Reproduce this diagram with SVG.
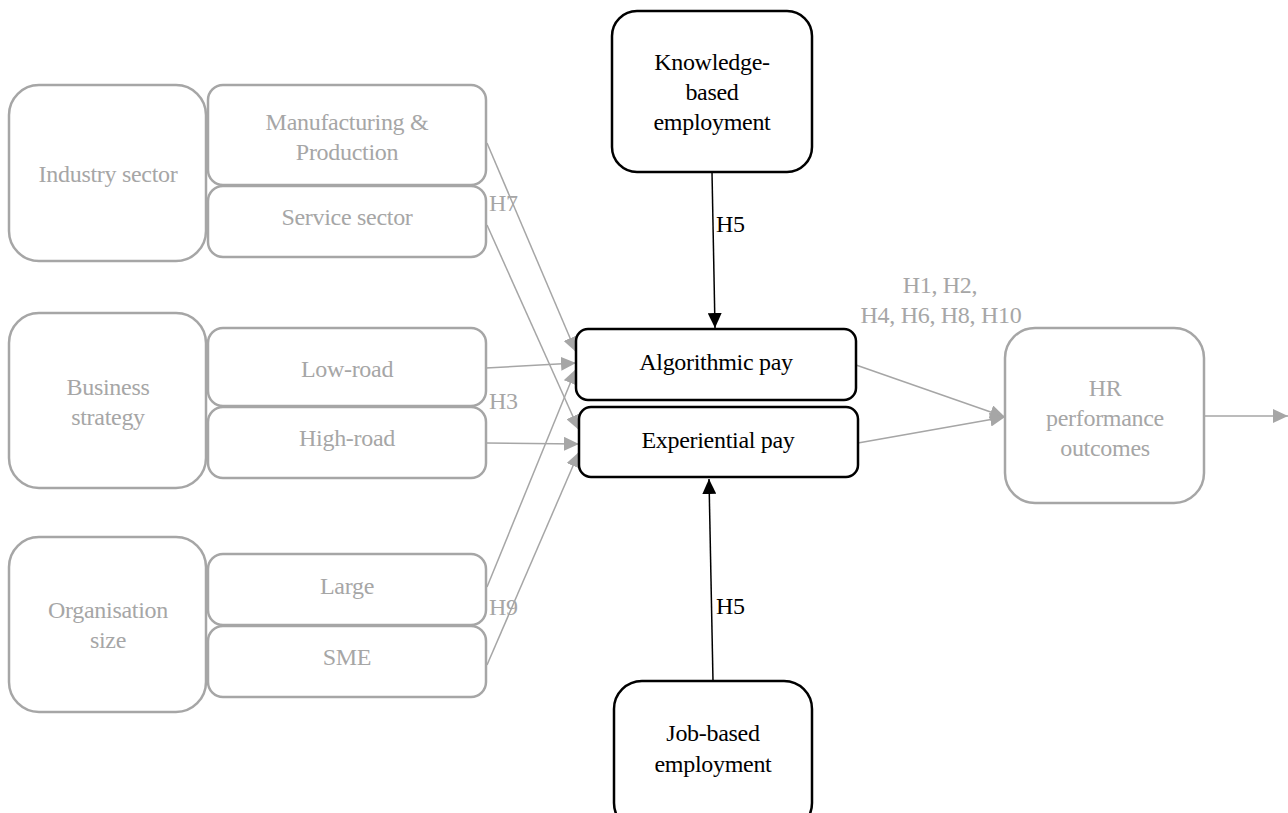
<svg xmlns="http://www.w3.org/2000/svg" width="1288" height="813" viewBox="0 0 1288 813">
<style>
text{font-family:'Liberation Serif',Tinos,'Times New Roman',Times,'Nimbus Roman','DejaVu Serif','Noto Serif',serif;font-size:24px;letter-spacing:-0.3px;text-anchor:middle}
.g{fill:#A6A6A6}
.k{fill:#000}
.gb{fill:#fff;stroke:#A6A6A6;stroke-width:2.5}
.kb{fill:#fff;stroke:#000;stroke-width:2.5}
.gl{stroke:#A6A6A6;stroke-width:1.5;fill:none}
.kl{stroke:#000;stroke-width:1.5;fill:none}
.lab{text-anchor:start}
</style>
<defs>
<marker id="ag" markerUnits="userSpaceOnUse" markerWidth="15" markerHeight="14" refX="15" refY="7" orient="auto"><path d="M0,0 L15,7 L0,14 z" fill="#A6A6A6"/></marker>
<marker id="ak" markerUnits="userSpaceOnUse" markerWidth="15" markerHeight="14" refX="15" refY="7" orient="auto"><path d="M0,0 L15,7 L0,14 z" fill="#000"/></marker>
</defs>

<g id="connectors">
<line class="gl" x1="487" y1="143" x2="576" y2="352" marker-end="url(#ag)"/>
<line class="gl" x1="487" y1="225" x2="579" y2="430" marker-end="url(#ag)"/>
<line class="gl" x1="486" y1="368" x2="576" y2="363" marker-end="url(#ag)"/>
<line class="gl" x1="486" y1="443" x2="579" y2="444" marker-end="url(#ag)"/>
<line class="gl" x1="487" y1="587" x2="576" y2="369" marker-end="url(#ag)"/>
<line class="gl" x1="487" y1="665" x2="579" y2="452" marker-end="url(#ag)"/>
<line class="gl" x1="856" y1="365" x2="1005" y2="417" marker-end="url(#ag)"/>
<line class="gl" x1="858" y1="443" x2="1005" y2="417" marker-end="url(#ag)"/>
<line class="gl" x1="1204" y1="416" x2="1288" y2="416" marker-end="url(#ag)"/>
<line class="kl" x1="712" y1="172" x2="715" y2="328" marker-end="url(#ak)"/>
<line class="kl" x1="713" y1="681" x2="709" y2="479" marker-end="url(#ak)"/>
<text class="g lab" x="489" y="211">H7</text>
<text class="g lab" x="489" y="409">H3</text>
<text class="g lab" x="489" y="615">H9</text>
<text class="k lab" x="716" y="232">H5</text>
<text class="k lab" x="716" y="614">H5</text>
<text class="g" x="940" y="293">H1, H2,</text>
<text class="g" x="941" y="323">H4, H6, H8, H10</text>
</g>

<g id="industry-sector">
<rect class="gb" x="9" y="85" width="197" height="176" rx="30"/>
<text class="g" x="108" y="182">Industry sector</text>
</g>
<g id="manufacturing">
<rect class="gb" x="208" y="85" width="278" height="100" rx="15"/>
<text class="g" x="347" y="130">Manufacturing &amp;</text>
<text class="g" x="347" y="160">Production</text>
</g>
<g id="service">
<rect class="gb" x="208" y="186" width="278" height="71" rx="15"/>
<text class="g" x="347" y="225">Service sector</text>
</g>

<g id="business-strategy">
<rect class="gb" x="9" y="313" width="197" height="175" rx="30"/>
<text class="g" x="108" y="395">Business</text>
<text class="g" x="108" y="425">strategy</text>
</g>
<g id="low-road">
<rect class="gb" x="208" y="328" width="278" height="78" rx="15"/>
<text class="g" x="347" y="377">Low-road</text>
</g>
<g id="high-road">
<rect class="gb" x="208" y="407" width="278" height="71" rx="15"/>
<text class="g" x="347" y="446">High-road</text>
</g>

<g id="organisation-size">
<rect class="gb" x="9" y="537" width="197" height="175" rx="30"/>
<text class="g" x="108" y="618">Organisation</text>
<text class="g" x="108" y="648">size</text>
</g>
<g id="large">
<rect class="gb" x="208" y="554" width="278" height="71" rx="15"/>
<text class="g" x="347" y="594">Large</text>
</g>
<g id="sme">
<rect class="gb" x="208" y="626" width="278" height="71" rx="15"/>
<text class="g" x="347" y="665">SME</text>
</g>

<g id="knowledge-based">
<rect class="kb" x="612" y="11" width="200" height="161" rx="25"/>
<text class="k" x="712" y="70">Knowledge-</text>
<text class="k" x="712" y="100">based</text>
<text class="k" x="712" y="130">employment</text>
</g>
<g id="algorithmic-pay">
<rect class="kb" x="576" y="329" width="280" height="71" rx="12"/>
<text class="k" x="716" y="370">Algorithmic pay</text>
</g>
<g id="experiential-pay">
<rect class="kb" x="579" y="407" width="279" height="70" rx="12"/>
<text class="k" x="718" y="448">Experiential pay</text>
</g>
<g id="job-based">
<rect class="kb" x="614" y="681" width="198" height="150" rx="28"/>
<text class="k" x="713" y="741">Job-based</text>
<text class="k" x="713" y="772">employment</text>
</g>
<g id="hr-outcomes">
<rect class="gb" x="1005" y="328" width="199" height="175" rx="30"/>
<text class="g" x="1105" y="396">HR</text>
<text class="g" x="1105" y="426">performance</text>
<text class="g" x="1105" y="456">outcomes</text>
</g>
</svg>
